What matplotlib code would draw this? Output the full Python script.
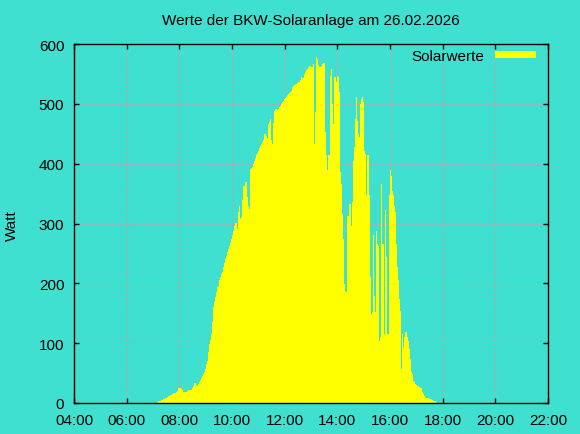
import numpy as np
import matplotlib
matplotlib.use("Agg")
import matplotlib.pyplot as plt

plt.rcParams['font.family'] = ['Liberation Sans', 'DejaVu Sans']

t_start = 7 + 9 / 60
step_h = 2.28 / 60
watt = [
    2, 3, 3, 4, 5, 5, 6, 7, 8, 9, 10, 11, 12, 13, 14, 15, 16, 16, 16, 18,
    20, 25, 25, 25, 23, 22, 19, 18, 18, 19, 20, 21, 22, 21, 22, 25, 29, 33, 33, 30,
    29, 32, 35, 38, 41, 45, 48, 52, 57, 65, 71, 85, 99, 105, 115, 136, 160, 168, 177, 186,
    194, 196, 205, 211, 215, 219, 227, 234, 241, 246, 252, 258, 263, 268, 274, 281, 288, 295, 301, 301,
    291, 319, 329, 308, 311, 340, 363, 363, 369, 369, 344, 330, 324, 391, 392, 394, 400, 405, 410, 414,
    418, 422, 426, 430, 433, 436, 440, 450, 449, 447, 443, 466, 470, 475, 439, 433, 468, 488, 492, 491,
    490, 492, 495, 497, 500, 503, 505, 508, 510, 512, 514, 516, 518, 520, 522, 528, 530, 532, 533, 533,
    535, 536, 537, 540, 545, 543, 543, 550, 553, 556, 559, 562, 563, 564, 562, 561, 566, 433, 487, 579,
    575, 565, 561, 561, 564, 567, 569, 568, 453, 414, 389, 414, 414, 547, 558, 500, 466, 545, 545, 536,
    547, 545, 519, 386, 366, 316, 274, 199, 188, 185, 313, 313, 333, 333, 296, 336, 405, 428, 475, 512,
    472, 450, 445, 500, 508, 512, 503, 422, 416, 347, 414, 414, 348, 210, 149, 152, 280, 179, 152, 288,
    266, 263, 104, 110, 366, 266, 266, 115, 322, 244, 115, 115, 347, 389, 380, 355, 347, 330, 319, 266,
    227, 205, 174, 154, 57, 115, 94, 110, 119, 119, 110, 104, 90, 74, 52, 48, 37, 35, 32, 30,
    28, 28, 26, 25, 25, 18, 15, 12, 8, 8, 8, 8, 7, 7, 6, 5, 4, 4, 3, 1,
]
x_ticks = [4, 6, 8, 10, 12, 14, 16, 18, 20, 22]
x_labels = ['04:00', '06:00', '08:00', '10:00', '12:00', '14:00', '16:00', '18:00', '20:00', '22:00']
y_ticks = [0, 100, 200, 300, 400, 500, 600]

bg = '#40e0d0'
fig = plt.figure(figsize=(5.8, 4.35), dpi=100, facecolor=bg)
ax = fig.add_axes([74 / 580, 1 - 404 / 435, 474 / 580, 359 / 435], facecolor=bg)

edges = t_start + step_h * np.arange(len(watt) + 1)
ax.stairs(watt, edges, fill=True, color='yellow', linewidth=0, label='Solarwerte')

ax.set_xlim(4, 22)
ax.set_ylim(0, 600)
ax.set_xticks(x_ticks)
ax.set_xticklabels(x_labels)
ax.set_yticks(y_ticks)
ax.tick_params(direction='in', length=3.5, width=1, top=True, right=True,
               labelsize=11, colors='black')
ax.tick_params(axis='y', pad=7)
ax.tick_params(axis='x', pad=7)
ax.set_axisbelow(True)
ax.grid(True, color='#cc9ca4', linestyle=(0, (2, 2)), linewidth=0.75)
for s in ax.spines.values():
    s.set_linewidth(1)

fig.text(311 / 580, 1 - 21 / 435, 'Werte der BKW-Solaranlage am 26.02.2026',
         ha='center', va='center', fontsize=11)
fig.text(12 / 580, 1 - 226 / 435, 'Watt', rotation=90, ha='center', va='center', fontsize=11)

ax.legend(loc='upper right', bbox_to_anchor=(536 / 580, 1 - 50 / 435),
          bbox_transform=fig.transFigure, frameon=False, markerfirst=False,
          fontsize=11, handlelength=2.7, handleheight=0.4, handletextpad=0.7,
          borderpad=0, borderaxespad=0)

fig.savefig('out.png', dpi=100, facecolor=bg)
